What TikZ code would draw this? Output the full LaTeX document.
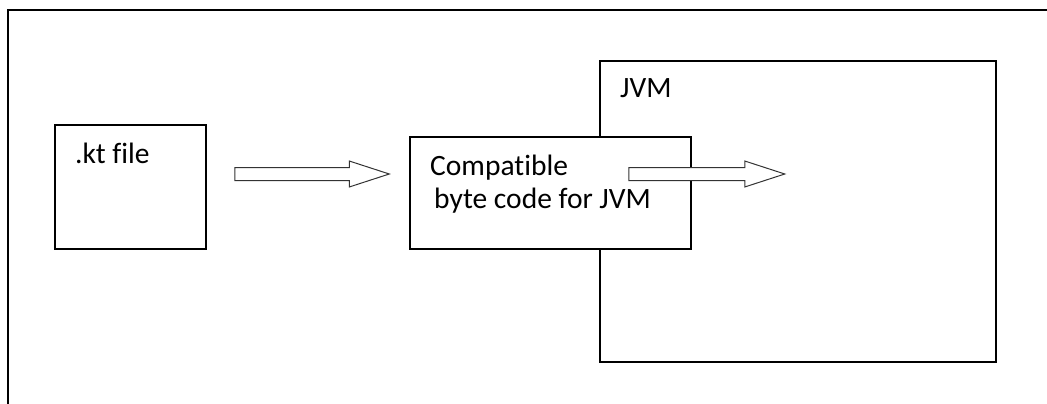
\documentclass[tikz,border=0pt]{standalone}
\usepackage{fontspec}
\setmainfont{Carlito}[Ligatures={NoCommon,NoContextual}]
\usetikzlibrary{calc}

\tikzset{
  box/.style={draw=black, line width=1.5pt, fill=white, inner sep=0pt},
  frame/.style={draw=black, line width=2pt},
  caption/.style={inner sep=0pt, anchor=base west, font=\fontsize{29.5}{34}\selectfont, text=black},
  blockarrow/.style={draw=black!80, line width=1pt, fill=white, line join=miter},
}

% hollow block arrow from #1 (tail) to #2 (tip)
\newcommand{\hollowarrow}[2]{%
  \path[blockarrow]
    ($(#1)+(0,-6.5)$) -- ($(#2)+(-40,-6.5)$) -- ($(#2)+(-40,-13)$) --
    (#2) --
    ($(#2)+(-40,13)$) -- ($(#2)+(-40,6.5)$) -- ($(#1)+(0,6.5)$) -- cycle;}

\begin{document}
\begin{tikzpicture}[x=1pt,y=-1pt]
  \useasboundingbox (0,0) rectangle (1047,404);

  % page frame (open to the right and bottom)
  \coordinate (frameTR) at (1047,10.5);
  \coordinate (frameTL) at (8,10.5);
  \coordinate (frameBL) at (8,404);
  \draw[frame] (frameTR) -- (frameTL) -- (frameBL);

  % source file
  \node[box, minimum width=151pt, minimum height=124pt] (kt) at (130.5,187) {};
  \node[caption] (ktlabel) at (75,163) {.kt file};

  % virtual machine
  \node[box, minimum width=396pt, minimum height=301pt] (jvm) at (798,211.5) {};
  \node[caption] (jvmlabel) at (620,98) {JVM};

  % compiled output, overlapping the JVM
  \node[box, minimum width=281pt, minimum height=112pt] (code) at (550.5,193) {};
  \node[caption] (codelabel1) at (430,175) {Compatible};
  \node[caption] (codelabel2) at (434,208) {byte code for JVM};

  % flow arrows
  \coordinate (a1tail) at ($(kt.east)+(28,-13)$);
  \coordinate (a1tip)  at ($(code.west)+(-20,-19)$);
  \coordinate (a2tail) at ($(code.east)+(-63,-19)$);
  \coordinate (a2tip)  at ($(code.east)+(93,-19)$);
  \hollowarrow{a1tail}{a1tip}
  \hollowarrow{a2tail}{a2tip}
\end{tikzpicture}
\end{document}
